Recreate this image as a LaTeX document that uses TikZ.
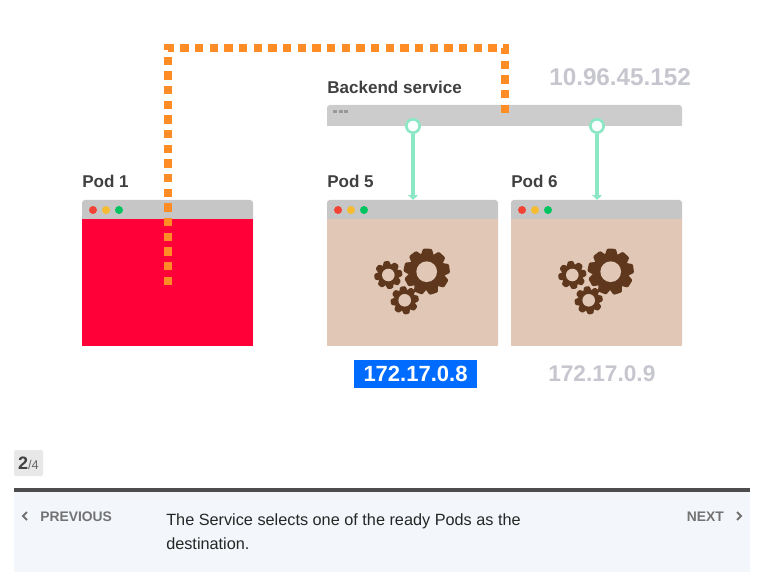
\documentclass[tikz,border=0pt]{standalone}
\usepackage{fontspec}
\setmainfont{Liberation Sans}
\usepackage{xcolor}
\usetikzlibrary{arrows.meta,positioning}
\definecolor{orangeflow}{RGB}{255, 140, 36}
\definecolor{mintline}{RGB}{140, 232, 196}
\definecolor{headgrey}{RGB}{198, 198, 198}
\definecolor{servicegrey}{RGB}{204, 204, 204}
\definecolor{ipgrey}{RGB}{198, 198, 207}
\definecolor{darktext}{RGB}{64, 64, 64}
\definecolor{podpeach}{RGB}{224, 199, 182}
\definecolor{podred}{RGB}{255, 0, 56}
\definecolor{gearbrown}{RGB}{95, 55, 28}
\definecolor{ipblue}{RGB}{0, 108, 255}
\definecolor{panelblue}{RGB}{243, 246, 250}
\definecolor{dotred}{RGB}{242, 66, 54}
\definecolor{dotyellow}{RGB}{245, 188, 47}
\definecolor{dotgreen}{RGB}{0, 196, 95}
\tikzset{
  podwindow/.style={fill=headgrey, rounded corners=2.2pt, minimum width=128.25pt, minimum height=109.5pt, inner sep=0pt, outer sep=0pt, anchor=north west},
  podbody/.style={minimum width=128.25pt, minimum height=95.25pt, inner sep=0pt, outer sep=0pt, anchor=north west},
  titlelabel/.style={anchor=base west, inner sep=0pt, text=darktext, font=\fontsize{12.8}{15}\selectfont\bfseries},
  iplabel/.style={anchor=base west, inner sep=0pt, text=ipgrey, font=\fontsize{17}{20}\selectfont\bfseries},
  navlabel/.style={inner sep=0pt, text=black!55, font=\fontsize{10.4}{12}\selectfont\bfseries},
  navchevron/.style={draw=black!55, line width=1.4pt},
  port/.style={circle, draw=mintline, fill=white, line width=2pt, minimum size=10pt, inner sep=0pt},
  mintarrow/.style={draw=mintline, line width=2.4pt, -{Triangle[width=7pt,length=3.6pt]}},
  flowline/.style={draw=orangeflow, line width=6.2pt, dash pattern=on 6.2pt off 4.8pt}
}
\newcommand{\podgear}[5]{%
  \foreach \a in {1,...,#4}
    \fill[gearbrown, shift={(#1,#2)}, rotate=\a*360/#4+8, rounded corners=0.8pt]
      (0.6*#3,-0.32*#3) -- (#3,-0.19*#3) -- (#3,0.19*#3) -- (0.6*#3,0.32*#3) -- cycle;
  \fill[gearbrown] (#1,#2) circle[radius=0.72*#3];
  \fill[#5] (#1,#2) circle[radius=0.45*#3];
}
\begin{document}
\begin{tikzpicture}[x=0.75pt,y=-0.75pt]
  \useasboundingbox (0,0) rectangle (757,577);

  % Pod windows
  \foreach \podname/\podx/\podfill in {pod1/82/podred,pod5/327/podpeach,pod6/511/podpeach} {
    \node[podwindow] (\podname) at (\podx,200) {};
    \node[podbody, fill=\podfill] (\podname body) at (\podx,219) {};
    \fill[dotred] (\podx+11,210) circle[radius=4];
    \fill[dotyellow] (\podx+24,210) circle[radius=4];
    \fill[dotgreen] (\podx+37,210) circle[radius=4];
  }
  \node[titlelabel] (pod1label) at (82,188) {Pod 1};
  \node[titlelabel] (pod5label) at (327,188) {Pod 5};
  \node[titlelabel] (pod6label) at (511,188) {Pod 6};

  % Gears
  \foreach \gearx in {0,184} {
    \podgear{426.7+\gearx}{271.7}{23}{9}{podpeach}
    \podgear{388.3+\gearx}{275}{14}{8}{podpeach}
    \podgear{404.7+\gearx}{300.3}{14}{8}{podpeach}
  }

  % Backend service
  \node[fill=servicegrey, rounded corners=2.2pt, minimum width=266.25pt, minimum height=15.75pt, inner sep=0pt, outer sep=0pt, anchor=north west] (service) at (327,105) {};
  \fill[servicegrey] (327,115) rectangle (682,126);
  \fill[black!40] (333,110.5) rectangle (337,113.5);
  \fill[black!40] (338.5,110.5) rectangle (342.5,113.5);
  \fill[black!40] (344,110.5) rectangle (348,113.5);
  \node[titlelabel] (servicelabel) at (327,94) {Backend service};
  \node[iplabel, font=\fontsize{18.2}{20}\selectfont\bfseries] (serviceip) at (549,86) {10.96.45.152};

  % Service to pods
  \node[port] (port5) at (413,126) {};
  \node[port] (port6) at (597,126) {};
  \draw[mintarrow] (port5) -- (port5 |- pod5.north);
  \draw[mintarrow] (port6) -- (port6 |- pod6.north);

  % Pod addresses
  \node[fill=ipblue, text=white, font=\fontsize{16.5}{20}\selectfont\bfseries, minimum width=92.25pt, minimum height=21pt, inner sep=0pt] (pod5ip) at (415.5,374) {172.17.0.8};
  \node[iplabel] (pod6ip) at (548,381) {172.17.0.9};

  % Traffic path
  \coordinate (flowstart) at (168,285);
  \coordinate (flowtop) at (168,48);
  \coordinate (flowright) at (505,48);
  \coordinate (flowend) at (505,116);
  \draw[flowline] (flowstart) -- (flowtop) -- (flowright) -- (flowend);

  % Step counter
  \node[fill=black!9, rounded corners=1pt, minimum width=21.75pt, minimum height=19.5pt, inner sep=0pt, outer sep=0pt, anchor=north west] (counter) at (14,450) {};
  \node[anchor=base, inner sep=0pt, text=darktext, font=\fontsize{13.5}{16}\selectfont] (countertext) at (28.5,469) {\textbf{2}{\fontsize{9.5}{11}\selectfont\color{black!60}/4}};

  % Caption panel
  \fill[panelblue] (14,492) rectangle (750,572);
  \fill[black!70] (14,488) rectangle (750,492);
  \draw[navchevron] (27,512) -- (23,516) -- (27,520);
  \node[navlabel, anchor=base west] (previous) at (40,521) {PREVIOUS};
  \node[navlabel, anchor=base east] (next) at (724,521) {NEXT};
  \draw[navchevron] (737,512) -- (741,516) -- (737,520);
  \node[anchor=base west, inner sep=0pt, text=black!85, align=left, font=\fontsize{12.2}{18}\selectfont] (caption) at (166,549) {The Service selects one of the ready Pods as the\\destination.};
\end{tikzpicture}
\end{document}
